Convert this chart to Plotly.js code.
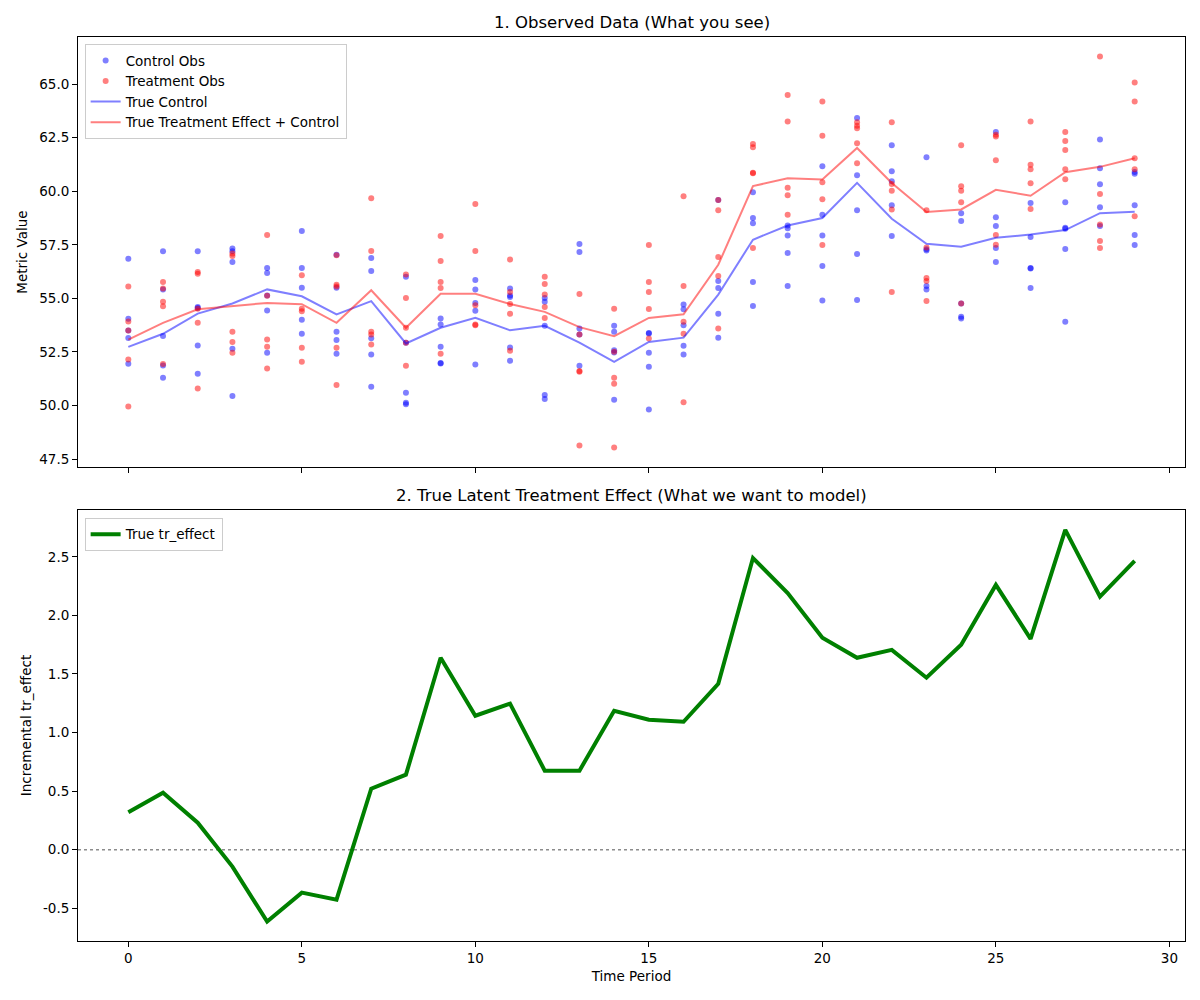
<!DOCTYPE html>
<html>
<head>
<meta charset="utf-8">
<script src="https://cdn.plot.ly/plotly-3.0.1.min.js"></script>
<style>html,body{margin:0;padding:0;background:#fff;}#chart{width:1200px;height:1000px;}</style>
</head>
<body>
<div id="chart"></div>
<script>
// Time periods
var periods = [0,1,2,3,4,5,6,7,8,9,10,11,12,13,14,15,16,17,18,19,20,21,22,23,24,25,26,27,28,29];

// Observed control values per period
var controlObs = [
  [56.85, 54.05, 53.5, 53.15, 51.95],
  [57.2, 55.42, 53.25, 51.87, 51.3],
  [57.2, 54.6, 52.8, 51.48, 54.55],
  [57.33, 57.2, 56.7, 52.65, 50.45],
  [56.42, 56.19, 55.14, 54.43, 52.46],
  [58.15, 56.42, 55.5, 54.0, 53.35],
  [57.04, 55.5, 53.44, 53.06, 52.42],
  [56.88, 56.28, 53.14, 52.38, 50.88],
  [56.01, 52.93, 50.6, 50.13, 50.06],
  [54.06, 53.78, 52.74, 51.99, 51.96],
  [55.86, 55.41, 54.79, 54.42, 51.92],
  [55.46, 55.14, 55.07, 52.71, 52.09],
  [55.02, 54.84, 53.72, 50.49, 50.3],
  [57.54, 57.16, 53.59, 53.31, 51.86],
  [53.72, 53.44, 52.58, 52.48, 50.27],
  [53.39, 53.36, 52.46, 51.81, 49.81],
  [54.71, 54.49, 53.75, 52.79, 52.38],
  [59.59, 55.81, 55.49, 54.28, 53.16],
  [59.96, 58.75, 58.51, 55.77, 54.65],
  [58.4, 58.28, 57.94, 57.12, 55.58],
  [61.17, 58.9, 57.94, 56.51, 54.9],
  [63.42, 60.75, 59.12, 57.07, 54.93],
  [62.15, 60.94, 60.47, 59.35, 57.91],
  [61.59, 57.29, 57.23, 55.58, 55.42],
  [58.98, 58.61, 54.76, 54.14, 54.06],
  [62.77, 58.79, 58.38, 57.35, 56.7],
  [59.45, 57.86, 56.42, 56.39, 55.49],
  [59.49, 58.3, 58.25, 57.3, 53.91],
  [62.42, 61.07, 60.33, 59.26, 58.38],
  [60.9, 60.82, 59.35, 57.96, 57.49]
];

// Observed treatment values per period
var treatmentObs = [
  [55.55, 53.92, 53.5, 52.15, 49.95],
  [55.77, 55.46, 54.84, 54.63, 51.94],
  [56.23, 56.15, 54.52, 53.86, 50.8],
  [57.09, 56.98, 53.44, 52.97, 52.46],
  [57.96, 55.12, 53.08, 52.74, 51.73],
  [56.08, 54.52, 54.4, 52.7, 52.04],
  [57.01, 55.64, 55.56, 52.7, 50.96],
  [59.68, 57.21, 53.44, 53.31, 52.85],
  [56.11, 55.02, 53.63, 52.93, 51.86],
  [57.91, 56.75, 55.77, 55.49, 52.42],
  [59.41, 57.21, 54.68, 53.78, 53.75],
  [56.81, 55.3, 54.74, 54.28, 52.56],
  [56.01, 55.67, 55.18, 54.6, 54.09],
  [55.21, 53.31, 51.61, 51.58, 48.13],
  [54.52, 52.51, 51.3, 51.02, 48.04],
  [57.49, 55.77, 55.3, 54.51, 53.13],
  [59.77, 55.58, 53.91, 53.35, 50.15],
  [59.59, 59.12, 56.93, 56.05, 53.59],
  [62.21, 62.05, 60.86, 60.84, 57.35],
  [64.49, 63.26, 60.16, 59.82, 58.9],
  [64.19, 62.59, 60.42, 59.63, 57.49],
  [63.22, 63.06, 62.94, 62.24, 61.31],
  [63.22, 60.34, 60.03, 59.15, 55.3],
  [59.12, 57.37, 55.95, 55.81, 54.88],
  [62.15, 60.24, 60.03, 59.49, 54.76],
  [62.64, 62.56, 61.45, 57.96, 57.5],
  [63.26, 61.24, 61.03, 60.38, 59.17],
  [62.77, 62.35, 61.93, 61.03, 60.56],
  [66.29, 59.87, 58.45, 57.68, 57.35],
  [65.08, 64.19, 61.54, 61.03, 58.84]
];

// True control line
var trueControl = [52.74, 53.35, 54.29, 54.76, 55.42, 55.10, 54.25, 54.87, 52.90, 53.63,
                   54.09, 53.51, 53.72, 52.94, 52.04, 52.97, 53.17, 55.18, 57.74, 58.40,
                   58.75, 60.39, 58.72, 57.55, 57.41, 57.83, 57.98, 58.19, 58.98, 59.04];

// True treatment effect + control line
var trueTreatment = [53.08, 53.86, 54.49, 54.63, 54.79, 54.73, 53.86, 55.38, 53.63, 55.22,
                     55.22, 54.74, 54.37, 53.66, 53.24, 54.09, 54.26, 56.57, 60.24, 60.61,
                     60.55, 62.02, 60.39, 59.03, 59.15, 60.07, 59.79, 60.89, 61.14, 61.54];

// True latent treatment effect
var trEffect = [0.32, 0.486, 0.23, -0.145, -0.614, -0.367, -0.427, 0.52, 0.64, 1.638,
                1.143, 1.246, 0.674, 0.674, 1.186, 1.109, 1.092, 1.416, 2.49, 2.19,
                1.81, 1.638, 1.706, 1.468, 1.75, 2.26, 1.80, 2.73, 2.16, 2.466];

var xTicks = [0, 5, 10, 15, 20, 25, 30];
var yTicksTop = [47.5, 50.0, 52.5, 55.0, 57.5, 60.0, 62.5, 65.0];
var yTicksBottom = [-0.5, 0.0, 0.5, 1.0, 1.5, 2.0, 2.5];

function flatten(obs) {
  var xs = [], ys = [];
  obs.forEach(function (vals, i) {
    vals.forEach(function (v) { xs.push(periods[i]); ys.push(v); });
  });
  return {x: xs, y: ys};
}
var cFlat = flatten(controlObs);
var tFlat = flatten(treatmentObs);

var FONT = 'DejaVu Sans, sans-serif';

var traces = [
  {x: cFlat.x, y: cFlat.y, type: 'scatter', mode: 'markers', name: 'Control Obs',
   marker: {color: 'blue', size: 6, opacity: 0.5, line: {width: 0}},
   xaxis: 'x', yaxis: 'y', legend: 'legend'},
  {x: tFlat.x, y: tFlat.y, type: 'scatter', mode: 'markers', name: 'Treatment Obs',
   marker: {color: 'red', size: 6, opacity: 0.5, line: {width: 0}},
   xaxis: 'x', yaxis: 'y', legend: 'legend'},
  {x: periods, y: trueControl, type: 'scatter', mode: 'lines', name: 'True Control',
   line: {color: 'rgba(0,0,255,0.5)', width: 2},
   xaxis: 'x', yaxis: 'y', legend: 'legend'},
  {x: periods, y: trueTreatment, type: 'scatter', mode: 'lines', name: 'True Treatment Effect + Control',
   line: {color: 'rgba(255,0,0,0.5)', width: 2},
   xaxis: 'x', yaxis: 'y', legend: 'legend'},
  {x: periods, y: trEffect, type: 'scatter', mode: 'lines', name: 'True tr_effect',
   line: {color: 'green', width: 4},
   xaxis: 'x2', yaxis: 'y2', legend: 'legend2'}
];

var axisCommon = {
  showline: true, linecolor: 'black', linewidth: 1, mirror: true,
  ticks: 'outside', ticklen: 5, tickwidth: 1, tickcolor: 'black',
  showgrid: false, zeroline: false,
  tickfont: {family: FONT, size: 13.5, color: 'black'}
};

var layout = {
  width: 1200, height: 1000,
  margin: {l: 78, r: 15, t: 37, b: 59},
  paper_bgcolor: 'white', plot_bgcolor: 'white',
  font: {family: FONT, color: 'black'},
  xaxis: Object.assign({}, axisCommon, {
    anchor: 'y', domain: [0, 1], range: [-1.45, 30.45],
    tickvals: xTicks, showticklabels: false, matches: 'x2'
  }),
  yaxis: Object.assign({}, axisCommon, {
    anchor: 'x', domain: [0.5243, 1], range: [47.13, 67.2],
    tickvals: yTicksTop, ticktext: yTicksTop.map(function (v) { return v.toFixed(1); }),
    title: {text: 'Metric Value', font: {family: FONT, size: 13.5, color: 'black'}, standoff: 8}
  }),
  xaxis2: Object.assign({}, axisCommon, {
    anchor: 'y2', domain: [0, 1], range: [-1.45, 30.45],
    tickvals: xTicks,
    title: {text: 'Time Period', font: {family: FONT, size: 13.5, color: 'black'}, standoff: 6}
  }),
  yaxis2: Object.assign({}, axisCommon, {
    anchor: 'x2', domain: [0, 0.4768], range: [-0.78, 2.9],
    tickvals: yTicksBottom, ticktext: yTicksBottom.map(function (v) { return v.toFixed(1); }),
    title: {text: 'Incremental tr_effect', font: {family: FONT, size: 13.5, color: 'black'}, standoff: 8}
  }),
  legend: {
    x: 0.006, y: 0.992, xanchor: 'left', yanchor: 'top',
    bgcolor: 'rgba(255,255,255,0.8)', bordercolor: '#cccccc', borderwidth: 1,
    font: {family: FONT, size: 13.5, color: 'black'}, tracegroupgap: 0
  },
  legend2: {
    x: 0.006, y: 0.468, xanchor: 'left', yanchor: 'top',
    bgcolor: 'rgba(255,255,255,0.8)', bordercolor: '#cccccc', borderwidth: 1,
    font: {family: FONT, size: 13.5, color: 'black'}
  },
  shapes: [
    {type: 'line', xref: 'x2 domain', x0: 0, x1: 1, yref: 'y2', y0: 0, y1: 0,
     line: {color: 'rgba(128,128,128,0.9)', width: 1.5, dash: 'dot'}, layer: 'below'}
  ],
  annotations: [
    {text: '1. Observed Data (What you see)', xref: 'paper', yref: 'paper', x: 0.5, y: 1,
     xanchor: 'center', yanchor: 'bottom', yshift: 3, showarrow: false,
     font: {family: FONT, size: 16.5, color: 'black'}},
    {text: '2. True Latent Treatment Effect (What we want to model)', xref: 'paper', yref: 'paper', x: 0.5, y: 0.4768,
     xanchor: 'center', yanchor: 'bottom', yshift: 3, showarrow: false,
     font: {family: FONT, size: 16.5, color: 'black'}}
  ],
  showlegend: true
};

Plotly.newPlot('chart', traces, layout, {displayModeBar: false, staticPlot: true});
</script>
</body>
</html>
